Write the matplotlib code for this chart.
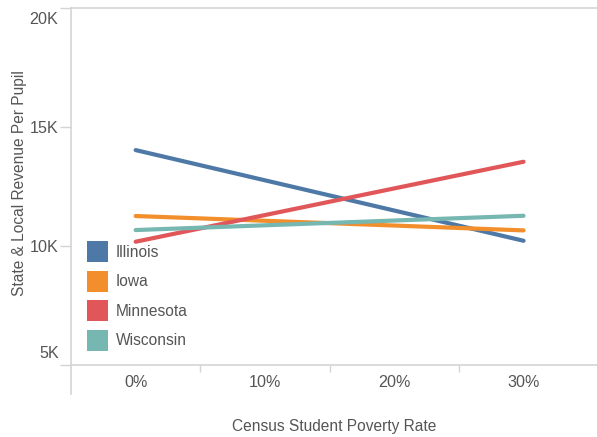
import matplotlib
matplotlib.use("Agg")
import matplotlib.pyplot as plt
import matplotlib.transforms as mtransforms
from matplotlib.patches import Patch
from matplotlib.lines import Line2D

# ---- data ----
poverty_rate = [0, 10, 20, 30]
x_tick_labels = ["0%", "10%", "20%", "30%"]
states = ["Illinois", "Iowa", "Minnesota", "Wisconsin"]
illinois = [14030, 12760, 11490, 10220]
iowa = [11260, 11060, 10860, 10655]
minnesota = [10180, 11300, 12420, 13540]
wisconsin = [10670, 10870, 11070, 11270]
y_ticks = [5000, 10000, 15000, 20000]
y_tick_labels = ["5K", "10K", "15K", "20K"]

colors = {"Illinois": "#4e79a7", "Iowa": "#f28e2b",
          "Minnesota": "#e15759", "Wisconsin": "#76b7b2"}
series = {"Illinois": illinois, "Iowa": iowa,
          "Minnesota": minnesota, "Wisconsin": wisconsin}

plt.rcParams['font.family'] = ['Liberation Sans', 'DejaVu Sans']
W, H = 597, 437
fig = plt.figure(figsize=(W / 100, H / 100), dpi=100)
L, R, T, B = 71, 597, 8, 365
ax = fig.add_axes([L / W, 1 - B / H, (R - L) / W, (B - T) / H])

grey_txt = "#555555"
axis_col = "#d4d4d4"
for s in states:
    ax.plot(poverty_rate, series[s], color=colors[s], lw=3.0,
            solid_capstyle="round", zorder=3)

px_per = 12.93
ax.set_xlim(-5, -5 + (R - L) / px_per)
ax.set_ylim(5000, 20000)

tick_fs = 11.6
ax.set_xticks(poverty_rate)
ax.set_xticklabels(x_tick_labels)
ax.tick_params(axis="x", which="major", length=0, pad=7,
               labelsize=tick_fs, labelcolor=grey_txt)
ax.set_xticks([5, 15, 25], minor=True)
ax.tick_params(axis="x", which="minor", length=5, width=1, color=axis_col)

ax.set_yticks(y_ticks)
ax.set_yticklabels(y_tick_labels)
ax.tick_params(axis="y", length=8, width=1, color=axis_col, pad=1,
               labelsize=tick_fs, labelcolor=grey_txt)
ylabs = ax.get_yticklabels()
ylabs[0].set_verticalalignment("bottom")
ylabs[0].set_transform(ylabs[0].get_transform() +
                       mtransforms.ScaledTranslation(0, 4 / 100, fig.dpi_scale_trans))
ylabs[-1].set_verticalalignment("top")
ylabs[-1].set_transform(ylabs[-1].get_transform() +
                        mtransforms.ScaledTranslation(0, -4 / 100, fig.dpi_scale_trans))

for side in ["top", "bottom", "left"]:
    ax.spines[side].set_color(axis_col)
    ax.spines[side].set_linewidth(1.2)
ax.spines["right"].set_visible(False)

fig.add_artist(Line2D([L / W, L / W], [1 - B / H, 1 - 394 / H],
                      color=axis_col, lw=1.2))

fs = 11.2
fig.text(334 / W, 1 - 426 / H, "Census Student Poverty Rate",
         ha="center", va="center", fontsize=fs, color=grey_txt)
fig.text(20 / W, 1 - 183 / H, "State & Local Revenue Per Pupil",
         ha="center", va="center", rotation=90, fontsize=fs, color=grey_txt)

handles = [Patch(facecolor=colors[s], edgecolor="none", label=s) for s in states]
fpx = fs * 100 / 72
box = 21 / fpx
hh = (box - 0.245) / 0.65
leg = ax.legend(handles=handles, loc="upper left",
                bbox_to_anchor=(87 / W, 1 - 241 / H), bbox_transform=fig.transFigure,
                frameon=False, borderpad=0, borderaxespad=0,
                handlelength=box, handleheight=hh,
                handletextpad=8 / fpx, labelspacing=(29.5 - 21) / fpx,
                fontsize=fs, labelcolor=grey_txt)

fig.savefig("out.png", dpi=100)
